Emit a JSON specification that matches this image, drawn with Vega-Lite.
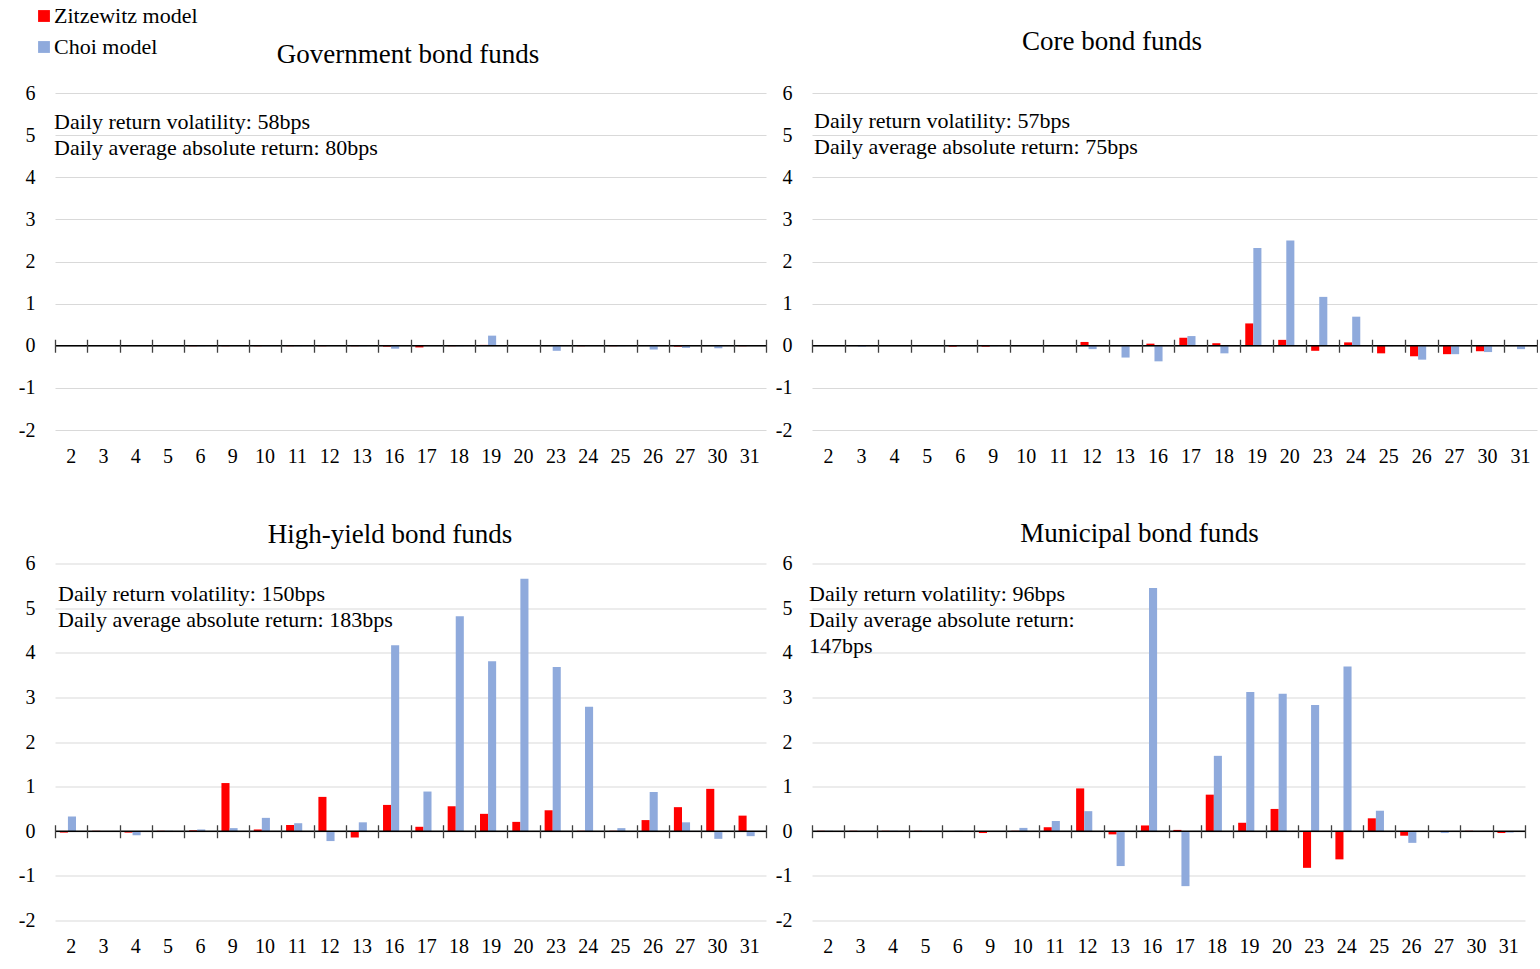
{
  "$schema": "https://vega.github.io/schema/vega-lite/v6.json",
  "background": "white",
  "padding": {"left": 18, "top": 5, "right": 0, "bottom": 0},
  "config": {
    "view": {"stroke": null},
    "font": "Liberation Serif",
    "axis": {"labelFont": "Liberation Serif", "labelFontSize": 20, "labelColor": "black"}
  },
  "datasets": {
    "notes": [
      {"panel": "Government", "note": "Daily return volatility: 58bps\nDaily average absolute return: 80bps"},
      {"panel": "Core", "note": "Daily return volatility: 57bps\nDaily average absolute return: 75bps"},
      {"panel": "High-yield", "note": "Daily return volatility: 150bps\nDaily average absolute return: 183bps"},
      {"panel": "Municipal", "note": "Daily return volatility: 96bps\nDaily average absolute return:\n147bps"}
    ],
    "bars": [
      {"panel": "Government", "day": 2, "model": "Zitzewitz model", "value": 0.01}, {"panel": "Government", "day": 2, "model": "Choi model", "value": 0.02},
      {"panel": "Government", "day": 3, "model": "Zitzewitz model", "value": 0.01}, {"panel": "Government", "day": 3, "model": "Choi model", "value": 0.005},
      {"panel": "Government", "day": 4, "model": "Zitzewitz model", "value": 0.01}, {"panel": "Government", "day": 4, "model": "Choi model", "value": 0.01},
      {"panel": "Government", "day": 5, "model": "Zitzewitz model", "value": 0.01}, {"panel": "Government", "day": 5, "model": "Choi model", "value": 0.005},
      {"panel": "Government", "day": 6, "model": "Zitzewitz model", "value": -0.01}, {"panel": "Government", "day": 6, "model": "Choi model", "value": -0.01},
      {"panel": "Government", "day": 9, "model": "Zitzewitz model", "value": -0.01}, {"panel": "Government", "day": 9, "model": "Choi model", "value": 0.01},
      {"panel": "Government", "day": 10, "model": "Zitzewitz model", "value": -0.01}, {"panel": "Government", "day": 10, "model": "Choi model", "value": -0.01},
      {"panel": "Government", "day": 11, "model": "Zitzewitz model", "value": -0.01}, {"panel": "Government", "day": 11, "model": "Choi model", "value": -0.01},
      {"panel": "Government", "day": 12, "model": "Zitzewitz model", "value": -0.01}, {"panel": "Government", "day": 12, "model": "Choi model", "value": 0.01},
      {"panel": "Government", "day": 13, "model": "Zitzewitz model", "value": -0.01}, {"panel": "Government", "day": 13, "model": "Choi model", "value": -0.01},
      {"panel": "Government", "day": 16, "model": "Zitzewitz model", "value": -0.02}, {"panel": "Government", "day": 16, "model": "Choi model", "value": -0.07},
      {"panel": "Government", "day": 17, "model": "Zitzewitz model", "value": -0.04}, {"panel": "Government", "day": 17, "model": "Choi model", "value": 0.01},
      {"panel": "Government", "day": 18, "model": "Zitzewitz model", "value": -0.01}, {"panel": "Government", "day": 18, "model": "Choi model", "value": -0.01},
      {"panel": "Government", "day": 19, "model": "Zitzewitz model", "value": 0.02}, {"panel": "Government", "day": 19, "model": "Choi model", "value": 0.24},
      {"panel": "Government", "day": 20, "model": "Zitzewitz model", "value": 0.01}, {"panel": "Government", "day": 20, "model": "Choi model", "value": 0.01},
      {"panel": "Government", "day": 23, "model": "Zitzewitz model", "value": 0.01}, {"panel": "Government", "day": 23, "model": "Choi model", "value": -0.12},
      {"panel": "Government", "day": 24, "model": "Zitzewitz model", "value": -0.01}, {"panel": "Government", "day": 24, "model": "Choi model", "value": 0.01},
      {"panel": "Government", "day": 25, "model": "Zitzewitz model", "value": -0.01}, {"panel": "Government", "day": 25, "model": "Choi model", "value": -0.01},
      {"panel": "Government", "day": 26, "model": "Zitzewitz model", "value": 0.01}, {"panel": "Government", "day": 26, "model": "Choi model", "value": -0.09},
      {"panel": "Government", "day": 27, "model": "Zitzewitz model", "value": -0.02}, {"panel": "Government", "day": 27, "model": "Choi model", "value": -0.05},
      {"panel": "Government", "day": 30, "model": "Zitzewitz model", "value": 0.01}, {"panel": "Government", "day": 30, "model": "Choi model", "value": -0.06},
      {"panel": "Government", "day": 31, "model": "Zitzewitz model", "value": -0.01}, {"panel": "Government", "day": 31, "model": "Choi model", "value": 0.01},

      {"panel": "Core", "day": 2, "model": "Zitzewitz model", "value": 0.01}, {"panel": "Core", "day": 2, "model": "Choi model", "value": 0.005},
      {"panel": "Core", "day": 3, "model": "Zitzewitz model", "value": 0.01}, {"panel": "Core", "day": 3, "model": "Choi model", "value": -0.02},
      {"panel": "Core", "day": 4, "model": "Zitzewitz model", "value": 0.01}, {"panel": "Core", "day": 4, "model": "Choi model", "value": 0.01},
      {"panel": "Core", "day": 5, "model": "Zitzewitz model", "value": 0.01}, {"panel": "Core", "day": 5, "model": "Choi model", "value": 0.01},
      {"panel": "Core", "day": 6, "model": "Zitzewitz model", "value": -0.02}, {"panel": "Core", "day": 6, "model": "Choi model", "value": 0.01},
      {"panel": "Core", "day": 9, "model": "Zitzewitz model", "value": -0.02}, {"panel": "Core", "day": 9, "model": "Choi model", "value": -0.01},
      {"panel": "Core", "day": 10, "model": "Zitzewitz model", "value": 0.01}, {"panel": "Core", "day": 10, "model": "Choi model", "value": 0.01},
      {"panel": "Core", "day": 11, "model": "Zitzewitz model", "value": 0.01}, {"panel": "Core", "day": 11, "model": "Choi model", "value": 0.01},
      {"panel": "Core", "day": 12, "model": "Zitzewitz model", "value": 0.09}, {"panel": "Core", "day": 12, "model": "Choi model", "value": -0.08},
      {"panel": "Core", "day": 13, "model": "Zitzewitz model", "value": 0.01}, {"panel": "Core", "day": 13, "model": "Choi model", "value": -0.28},
      {"panel": "Core", "day": 16, "model": "Zitzewitz model", "value": 0.05}, {"panel": "Core", "day": 16, "model": "Choi model", "value": -0.37},
      {"panel": "Core", "day": 17, "model": "Zitzewitz model", "value": 0.19}, {"panel": "Core", "day": 17, "model": "Choi model", "value": 0.23},
      {"panel": "Core", "day": 18, "model": "Zitzewitz model", "value": 0.06}, {"panel": "Core", "day": 18, "model": "Choi model", "value": -0.18},
      {"panel": "Core", "day": 19, "model": "Zitzewitz model", "value": 0.53}, {"panel": "Core", "day": 19, "model": "Choi model", "value": 2.32},
      {"panel": "Core", "day": 20, "model": "Zitzewitz model", "value": 0.14}, {"panel": "Core", "day": 20, "model": "Choi model", "value": 2.5},
      {"panel": "Core", "day": 23, "model": "Zitzewitz model", "value": -0.12}, {"panel": "Core", "day": 23, "model": "Choi model", "value": 1.16},
      {"panel": "Core", "day": 24, "model": "Zitzewitz model", "value": 0.08}, {"panel": "Core", "day": 24, "model": "Choi model", "value": 0.69},
      {"panel": "Core", "day": 25, "model": "Zitzewitz model", "value": -0.18}, {"panel": "Core", "day": 25, "model": "Choi model", "value": -0.01},
      {"panel": "Core", "day": 26, "model": "Zitzewitz model", "value": -0.25}, {"panel": "Core", "day": 26, "model": "Choi model", "value": -0.33},
      {"panel": "Core", "day": 27, "model": "Zitzewitz model", "value": -0.2}, {"panel": "Core", "day": 27, "model": "Choi model", "value": -0.2},
      {"panel": "Core", "day": 30, "model": "Zitzewitz model", "value": -0.13}, {"panel": "Core", "day": 30, "model": "Choi model", "value": -0.15},
      {"panel": "Core", "day": 31, "model": "Zitzewitz model", "value": 0.01}, {"panel": "Core", "day": 31, "model": "Choi model", "value": -0.08},

      {"panel": "High-yield", "day": 2, "model": "Zitzewitz model", "value": -0.03}, {"panel": "High-yield", "day": 2, "model": "Choi model", "value": 0.33},
      {"panel": "High-yield", "day": 3, "model": "Zitzewitz model", "value": 0.01}, {"panel": "High-yield", "day": 3, "model": "Choi model", "value": 0.0},
      {"panel": "High-yield", "day": 4, "model": "Zitzewitz model", "value": -0.03}, {"panel": "High-yield", "day": 4, "model": "Choi model", "value": -0.09},
      {"panel": "High-yield", "day": 5, "model": "Zitzewitz model", "value": 0.01}, {"panel": "High-yield", "day": 5, "model": "Choi model", "value": 0.01},
      {"panel": "High-yield", "day": 6, "model": "Zitzewitz model", "value": 0.02}, {"panel": "High-yield", "day": 6, "model": "Choi model", "value": 0.04},
      {"panel": "High-yield", "day": 9, "model": "Zitzewitz model", "value": 1.08}, {"panel": "High-yield", "day": 9, "model": "Choi model", "value": 0.07},
      {"panel": "High-yield", "day": 10, "model": "Zitzewitz model", "value": 0.04}, {"panel": "High-yield", "day": 10, "model": "Choi model", "value": 0.3},
      {"panel": "High-yield", "day": 11, "model": "Zitzewitz model", "value": 0.14}, {"panel": "High-yield", "day": 11, "model": "Choi model", "value": 0.18},
      {"panel": "High-yield", "day": 12, "model": "Zitzewitz model", "value": 0.77}, {"panel": "High-yield", "day": 12, "model": "Choi model", "value": -0.22},
      {"panel": "High-yield", "day": 13, "model": "Zitzewitz model", "value": -0.14}, {"panel": "High-yield", "day": 13, "model": "Choi model", "value": 0.2},
      {"panel": "High-yield", "day": 16, "model": "Zitzewitz model", "value": 0.59}, {"panel": "High-yield", "day": 16, "model": "Choi model", "value": 4.17},
      {"panel": "High-yield", "day": 17, "model": "Zitzewitz model", "value": 0.1}, {"panel": "High-yield", "day": 17, "model": "Choi model", "value": 0.89},
      {"panel": "High-yield", "day": 18, "model": "Zitzewitz model", "value": 0.56}, {"panel": "High-yield", "day": 18, "model": "Choi model", "value": 4.82},
      {"panel": "High-yield", "day": 19, "model": "Zitzewitz model", "value": 0.39}, {"panel": "High-yield", "day": 19, "model": "Choi model", "value": 3.81},
      {"panel": "High-yield", "day": 20, "model": "Zitzewitz model", "value": 0.21}, {"panel": "High-yield", "day": 20, "model": "Choi model", "value": 5.66},
      {"panel": "High-yield", "day": 23, "model": "Zitzewitz model", "value": 0.47}, {"panel": "High-yield", "day": 23, "model": "Choi model", "value": 3.68},
      {"panel": "High-yield", "day": 24, "model": "Zitzewitz model", "value": 0.01}, {"panel": "High-yield", "day": 24, "model": "Choi model", "value": 2.79},
      {"panel": "High-yield", "day": 25, "model": "Zitzewitz model", "value": 0.01}, {"panel": "High-yield", "day": 25, "model": "Choi model", "value": 0.07},
      {"panel": "High-yield", "day": 26, "model": "Zitzewitz model", "value": 0.25}, {"panel": "High-yield", "day": 26, "model": "Choi model", "value": 0.88},
      {"panel": "High-yield", "day": 27, "model": "Zitzewitz model", "value": 0.54}, {"panel": "High-yield", "day": 27, "model": "Choi model", "value": 0.2},
      {"panel": "High-yield", "day": 30, "model": "Zitzewitz model", "value": 0.95}, {"panel": "High-yield", "day": 30, "model": "Choi model", "value": -0.17},
      {"panel": "High-yield", "day": 31, "model": "Zitzewitz model", "value": 0.35}, {"panel": "High-yield", "day": 31, "model": "Choi model", "value": -0.11},

      {"panel": "Municipal", "day": 2, "model": "Zitzewitz model", "value": 0.01}, {"panel": "Municipal", "day": 2, "model": "Choi model", "value": 0.01},
      {"panel": "Municipal", "day": 3, "model": "Zitzewitz model", "value": 0.01}, {"panel": "Municipal", "day": 3, "model": "Choi model", "value": 0.005},
      {"panel": "Municipal", "day": 4, "model": "Zitzewitz model", "value": 0.01}, {"panel": "Municipal", "day": 4, "model": "Choi model", "value": 0.01},
      {"panel": "Municipal", "day": 5, "model": "Zitzewitz model", "value": 0.01}, {"panel": "Municipal", "day": 5, "model": "Choi model", "value": 0.01},
      {"panel": "Municipal", "day": 6, "model": "Zitzewitz model", "value": -0.01}, {"panel": "Municipal", "day": 6, "model": "Choi model", "value": 0.01},
      {"panel": "Municipal", "day": 9, "model": "Zitzewitz model", "value": -0.04}, {"panel": "Municipal", "day": 9, "model": "Choi model", "value": -0.01},
      {"panel": "Municipal", "day": 10, "model": "Zitzewitz model", "value": 0.01}, {"panel": "Municipal", "day": 10, "model": "Choi model", "value": 0.075},
      {"panel": "Municipal", "day": 11, "model": "Zitzewitz model", "value": 0.09}, {"panel": "Municipal", "day": 11, "model": "Choi model", "value": 0.23},
      {"panel": "Municipal", "day": 12, "model": "Zitzewitz model", "value": 0.96}, {"panel": "Municipal", "day": 12, "model": "Choi model", "value": 0.45},
      {"panel": "Municipal", "day": 13, "model": "Zitzewitz model", "value": -0.07}, {"panel": "Municipal", "day": 13, "model": "Choi model", "value": -0.78},
      {"panel": "Municipal", "day": 16, "model": "Zitzewitz model", "value": 0.13}, {"panel": "Municipal", "day": 16, "model": "Choi model", "value": 5.45},
      {"panel": "Municipal", "day": 17, "model": "Zitzewitz model", "value": 0.03}, {"panel": "Municipal", "day": 17, "model": "Choi model", "value": -1.23},
      {"panel": "Municipal", "day": 18, "model": "Zitzewitz model", "value": 0.82}, {"panel": "Municipal", "day": 18, "model": "Choi model", "value": 1.69},
      {"panel": "Municipal", "day": 19, "model": "Zitzewitz model", "value": 0.19}, {"panel": "Municipal", "day": 19, "model": "Choi model", "value": 3.12},
      {"panel": "Municipal", "day": 20, "model": "Zitzewitz model", "value": 0.5}, {"panel": "Municipal", "day": 20, "model": "Choi model", "value": 3.08},
      {"panel": "Municipal", "day": 23, "model": "Zitzewitz model", "value": -0.82}, {"panel": "Municipal", "day": 23, "model": "Choi model", "value": 2.83},
      {"panel": "Municipal", "day": 24, "model": "Zitzewitz model", "value": -0.63}, {"panel": "Municipal", "day": 24, "model": "Choi model", "value": 3.69},
      {"panel": "Municipal", "day": 25, "model": "Zitzewitz model", "value": 0.29}, {"panel": "Municipal", "day": 25, "model": "Choi model", "value": 0.46},
      {"panel": "Municipal", "day": 26, "model": "Zitzewitz model", "value": -0.1}, {"panel": "Municipal", "day": 26, "model": "Choi model", "value": -0.26},
      {"panel": "Municipal", "day": 27, "model": "Zitzewitz model", "value": -0.01}, {"panel": "Municipal", "day": 27, "model": "Choi model", "value": -0.04},
      {"panel": "Municipal", "day": 30, "model": "Zitzewitz model", "value": 0.01}, {"panel": "Municipal", "day": 30, "model": "Choi model", "value": 0.005},
      {"panel": "Municipal", "day": 31, "model": "Zitzewitz model", "value": -0.04}, {"panel": "Municipal", "day": 31, "model": "Choi model", "value": -0.03}
    ]
  },
  "columns": 2,
  "bounds": "flush",
  "align": "each",
  "spacing": {"row": 133.5, "column": 46},
  "resolve": {"scale": {"color": "shared"}, "legend": {"color": "shared"}},
  "concat": [
    {
      "width": 711, "height": 337,
      "title": {"text": "Government bond funds", "anchor": "middle", "frame": "group", "baseline": "alphabetic", "offset": 20, "dx": -2.5, "dy": 27, "font": "Liberation Serif", "fontSize": 27, "fontWeight": "normal", "color": "black"},
      "resolve": {"axis": {"x": "independent"}},
      "layer": [
        {
          "data": {"name": "bars"},
          "transform": [{"filter": "datum.panel === 'Government'"}],
          "mark": {"type": "bar"},
          "encoding": {
            "x": {"field": "day", "type": "ordinal", "scale": {"paddingInner": 0, "paddingOuter": 0}, "axis": {"orient": "bottom", "title": null, "domain": false, "ticks": false, "tickSize": 0, "labelAngle": 0, "labelPadding": 16, "grid": false}},
            "xOffset": {"field": "model", "type": "nominal", "sort": ["Zitzewitz model", "Choi model"], "scale": {"paddingInner": 0, "paddingOuter": 1.21, "align": 0.3}},
            "y": {"field": "value", "type": "quantitative", "scale": {"domain": [-2, 6], "nice": false, "zero": false}, "axis": {"title": null, "values": [-2, -1, 0, 1, 2, 3, 4, 5, 6], "labelExpr": "'' + datum.value", "domain": false, "ticks": false, "tickSize": 0, "labelPadding": 20, "grid": true, "gridColor": "#d9d9d9", "gridWidth": 1.2}},
            "color": {"field": "model", "type": "nominal", "sort": ["Zitzewitz model", "Choi model"], "scale": {"domain": ["Zitzewitz model", "Choi model"], "range": ["#FF0000", "#8FAADC"]}, "legend": {"orient": "none", "legendX": -22, "legendY": -88, "title": null, "symbolType": "square", "symbolSize": 140, "symbolStrokeWidth": 0, "labelFont": "Liberation Serif", "labelFontSize": 22, "labelColor": "black", "rowPadding": 9, "labelOffset": -1, "padding": 0}}
          }
        },
        {
          "data": {"name": "bars"},
          "transform": [{"filter": "datum.panel === 'Government'"}],
          "mark": {"type": "point", "opacity": 0},
          "encoding": {
            "x": {"field": "day", "type": "ordinal", "axis": {"orient": "bottom", "offset": -90.75, "title": null, "labels": false, "domain": false, "ticks": true, "tickBand": "extent", "tickSize": 13, "tickColor": "#404040", "tickWidth": 1.3, "grid": false, "zindex": 2}},
            "y": {"datum": 0}
          }
        },
        {
          "data": {"name": "notes"},
          "transform": [{"filter": "datum.panel === 'Government'"}],
          "mark": {"type": "rule", "color": "black", "strokeWidth": 1.5},
          "encoding": {"y": {"datum": 0}}
        },
        {
          "data": {"name": "notes"},
          "transform": [{"filter": "datum.panel === 'Government'"}],
          "mark": {"type": "text", "align": "left", "baseline": "top", "font": "Liberation Serif", "fontSize": 22, "lineHeight": 26, "lineBreak": "\n", "color": "black", "dx": -1},
          "encoding": {"x": {"datum": 2, "type": "ordinal", "bandPosition": 0, "axis": null}, "y": {"datum": 5.55}, "text": {"field": "note"}}
        }
      ]
    },
    {
      "width": 725, "height": 337,
      "title": {"text": "Core bond funds", "anchor": "middle", "frame": "group", "baseline": "alphabetic", "offset": 33, "dx": -62.5, "dy": 27, "font": "Liberation Serif", "fontSize": 27, "fontWeight": "normal", "color": "black"},
      "resolve": {"axis": {"x": "independent"}},
      "layer": [
        {
          "data": {"name": "bars"},
          "transform": [{"filter": "datum.panel === 'Core'"}],
          "mark": {"type": "bar"},
          "encoding": {
            "x": {"field": "day", "type": "ordinal", "scale": {"paddingInner": 0, "paddingOuter": 0}, "axis": {"orient": "bottom", "title": null, "domain": false, "ticks": false, "tickSize": 0, "labelAngle": 0, "labelPadding": 16, "grid": false}},
            "xOffset": {"field": "model", "type": "nominal", "sort": ["Zitzewitz model", "Choi model"], "scale": {"paddingInner": 0, "paddingOuter": 1.21, "align": 0.3}},
            "y": {"field": "value", "type": "quantitative", "scale": {"domain": [-2, 6], "nice": false, "zero": false}, "axis": {"title": null, "values": [-2, -1, 0, 1, 2, 3, 4, 5, 6], "labelExpr": "'' + datum.value", "domain": false, "ticks": false, "tickSize": 0, "labelPadding": 20, "grid": true, "gridColor": "#d9d9d9", "gridWidth": 1.2}},
            "color": {"field": "model", "type": "nominal", "sort": ["Zitzewitz model", "Choi model"], "scale": {"domain": ["Zitzewitz model", "Choi model"], "range": ["#FF0000", "#8FAADC"]}, "legend": {"orient": "none", "legendX": -22, "legendY": -88, "title": null, "symbolType": "square", "symbolSize": 140, "symbolStrokeWidth": 0, "labelFont": "Liberation Serif", "labelFontSize": 22, "labelColor": "black", "rowPadding": 9, "labelOffset": -1, "padding": 0}}
          }
        },
        {
          "data": {"name": "bars"},
          "transform": [{"filter": "datum.panel === 'Core'"}],
          "mark": {"type": "point", "opacity": 0},
          "encoding": {
            "x": {"field": "day", "type": "ordinal", "axis": {"orient": "bottom", "offset": -90.75, "title": null, "labels": false, "domain": false, "ticks": true, "tickBand": "extent", "tickSize": 13, "tickColor": "#404040", "tickWidth": 1.3, "grid": false, "zindex": 2}},
            "y": {"datum": 0}
          }
        },
        {
          "data": {"name": "notes"},
          "transform": [{"filter": "datum.panel === 'Core'"}],
          "mark": {"type": "rule", "color": "black", "strokeWidth": 1.5},
          "encoding": {"y": {"datum": 0}}
        },
        {
          "data": {"name": "notes"},
          "transform": [{"filter": "datum.panel === 'Core'"}],
          "mark": {"type": "text", "align": "left", "baseline": "top", "font": "Liberation Serif", "fontSize": 22, "lineHeight": 26, "lineBreak": "\n", "color": "black", "dx": 2},
          "encoding": {"x": {"datum": 2, "type": "ordinal", "bandPosition": 0, "axis": null}, "y": {"datum": 5.57}, "text": {"field": "note"}}
        }
      ]
    },
    {
      "width": 711, "height": 357,
      "title": {"text": "High-yield bond funds", "anchor": "middle", "frame": "group", "baseline": "alphabetic", "offset": 12, "dx": -20.5, "dy": 28, "font": "Liberation Serif", "fontSize": 27, "fontWeight": "normal", "color": "black"},
      "resolve": {"axis": {"x": "independent"}},
      "layer": [
        {
          "data": {"name": "bars"},
          "transform": [{"filter": "datum.panel === 'High-yield'"}],
          "mark": {"type": "bar"},
          "encoding": {
            "x": {"field": "day", "type": "ordinal", "scale": {"paddingInner": 0, "paddingOuter": 0}, "axis": {"orient": "bottom", "title": null, "domain": false, "ticks": false, "tickSize": 0, "labelAngle": 0, "labelPadding": 16, "grid": false}},
            "xOffset": {"field": "model", "type": "nominal", "sort": ["Zitzewitz model", "Choi model"], "scale": {"paddingInner": 0, "paddingOuter": 1.21, "align": 0.3}},
            "y": {"field": "value", "type": "quantitative", "scale": {"domain": [-2, 6], "nice": false, "zero": false}, "axis": {"title": null, "values": [-2, -1, 0, 1, 2, 3, 4, 5, 6], "labelExpr": "'' + datum.value", "domain": false, "ticks": false, "tickSize": 0, "labelPadding": 20, "grid": true, "gridColor": "#d9d9d9", "gridWidth": 1.2}},
            "color": {"field": "model", "type": "nominal", "sort": ["Zitzewitz model", "Choi model"], "scale": {"domain": ["Zitzewitz model", "Choi model"], "range": ["#FF0000", "#8FAADC"]}, "legend": {"orient": "none", "legendX": -22, "legendY": -88, "title": null, "symbolType": "square", "symbolSize": 140, "symbolStrokeWidth": 0, "labelFont": "Liberation Serif", "labelFontSize": 22, "labelColor": "black", "rowPadding": 9, "labelOffset": -1, "padding": 0}}
          }
        },
        {
          "data": {"name": "bars"},
          "transform": [{"filter": "datum.panel === 'High-yield'"}],
          "mark": {"type": "point", "opacity": 0},
          "encoding": {
            "x": {"field": "day", "type": "ordinal", "axis": {"orient": "bottom", "offset": -95.75, "title": null, "labels": false, "domain": false, "ticks": true, "tickBand": "extent", "tickSize": 13, "tickColor": "#404040", "tickWidth": 1.3, "grid": false, "zindex": 2}},
            "y": {"datum": 0}
          }
        },
        {
          "data": {"name": "notes"},
          "transform": [{"filter": "datum.panel === 'High-yield'"}],
          "mark": {"type": "rule", "color": "black", "strokeWidth": 1.5},
          "encoding": {"y": {"datum": 0}}
        },
        {
          "data": {"name": "notes"},
          "transform": [{"filter": "datum.panel === 'High-yield'"}],
          "mark": {"type": "text", "align": "left", "baseline": "top", "font": "Liberation Serif", "fontSize": 22, "lineHeight": 26, "lineBreak": "\n", "color": "black", "dx": 3},
          "encoding": {"x": {"datum": 2, "type": "ordinal", "bandPosition": 0, "axis": null}, "y": {"datum": 5.53}, "text": {"field": "note"}}
        }
      ]
    },
    {
      "width": 713, "height": 357,
      "title": {"text": "Municipal bond funds", "anchor": "middle", "frame": "group", "baseline": "alphabetic", "offset": 12, "dx": -29, "dy": 27, "font": "Liberation Serif", "fontSize": 27, "fontWeight": "normal", "color": "black"},
      "resolve": {"axis": {"x": "independent"}},
      "layer": [
        {
          "data": {"name": "bars"},
          "transform": [{"filter": "datum.panel === 'Municipal'"}],
          "mark": {"type": "bar"},
          "encoding": {
            "x": {"field": "day", "type": "ordinal", "scale": {"paddingInner": 0, "paddingOuter": 0}, "axis": {"orient": "bottom", "title": null, "domain": false, "ticks": false, "tickSize": 0, "labelAngle": 0, "labelPadding": 16, "grid": false}},
            "xOffset": {"field": "model", "type": "nominal", "sort": ["Zitzewitz model", "Choi model"], "scale": {"paddingInner": 0, "paddingOuter": 1.21, "align": 0.3}},
            "y": {"field": "value", "type": "quantitative", "scale": {"domain": [-2, 6], "nice": false, "zero": false}, "axis": {"title": null, "values": [-2, -1, 0, 1, 2, 3, 4, 5, 6], "labelExpr": "'' + datum.value", "domain": false, "ticks": false, "tickSize": 0, "labelPadding": 20, "grid": true, "gridColor": "#d9d9d9", "gridWidth": 1.2}},
            "color": {"field": "model", "type": "nominal", "sort": ["Zitzewitz model", "Choi model"], "scale": {"domain": ["Zitzewitz model", "Choi model"], "range": ["#FF0000", "#8FAADC"]}, "legend": {"orient": "none", "legendX": -22, "legendY": -88, "title": null, "symbolType": "square", "symbolSize": 140, "symbolStrokeWidth": 0, "labelFont": "Liberation Serif", "labelFontSize": 22, "labelColor": "black", "rowPadding": 9, "labelOffset": -1, "padding": 0}}
          }
        },
        {
          "data": {"name": "bars"},
          "transform": [{"filter": "datum.panel === 'Municipal'"}],
          "mark": {"type": "point", "opacity": 0},
          "encoding": {
            "x": {"field": "day", "type": "ordinal", "axis": {"orient": "bottom", "offset": -95.75, "title": null, "labels": false, "domain": false, "ticks": true, "tickBand": "extent", "tickSize": 13, "tickColor": "#404040", "tickWidth": 1.3, "grid": false, "zindex": 2}},
            "y": {"datum": 0}
          }
        },
        {
          "data": {"name": "notes"},
          "transform": [{"filter": "datum.panel === 'Municipal'"}],
          "mark": {"type": "rule", "color": "black", "strokeWidth": 1.5},
          "encoding": {"y": {"datum": 0}}
        },
        {
          "data": {"name": "notes"},
          "transform": [{"filter": "datum.panel === 'Municipal'"}],
          "mark": {"type": "text", "align": "left", "baseline": "top", "font": "Liberation Serif", "fontSize": 22, "lineHeight": 26, "lineBreak": "\n", "color": "black", "dx": -3},
          "encoding": {"x": {"datum": 2, "type": "ordinal", "bandPosition": 0, "axis": null}, "y": {"datum": 5.55}, "text": {"field": "note"}}
        }
      ]
    }
  ]
}
